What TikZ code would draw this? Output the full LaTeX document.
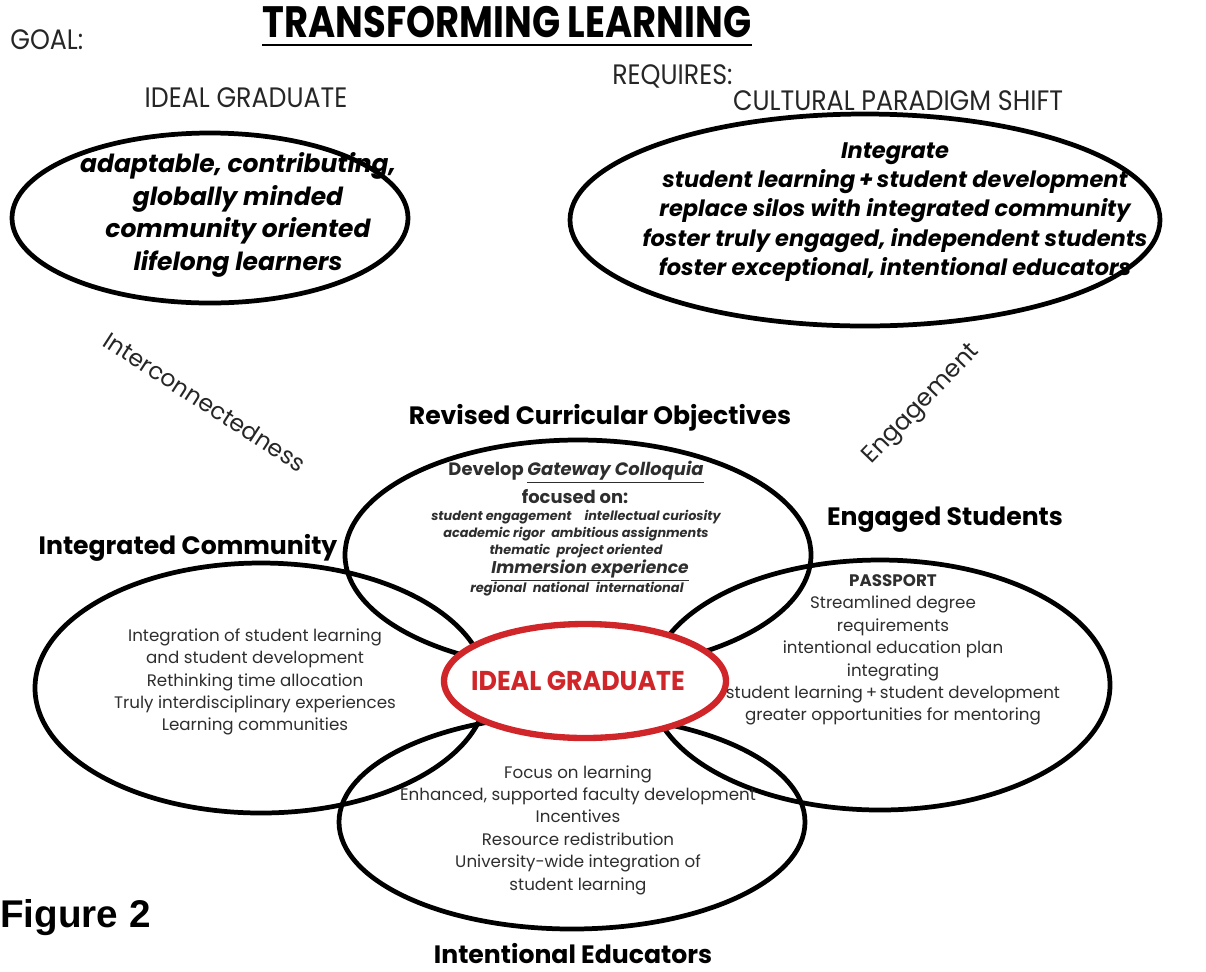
\documentclass[tikz,border=0pt]{standalone}
\usepackage{fontspec}
\setmainfont{Poppins}
\newfontfamily\figfont{Liberation Sans}
\usetikzlibrary{shapes.geometric}
\definecolor{txtgray}{HTML}{2E2E2E}
\definecolor{idealred}{HTML}{D0262A}
\tikzset{
  oval/.style={ellipse, draw=black, line width=2.7pt, inner sep=0pt},
  redoval/.style={ellipse, draw=idealred, line width=3.6pt, fill=white, inner sep=0pt},
  body/.style={align=center, text=txtgray, font=\fontsize{9.5}{12.75}\selectfont, inner sep=0pt},
  head/.style={font=\bfseries\fontsize{14.3}{16}\selectfont, inner sep=0pt},
  lbl/.style={inner sep=0pt, text=black!85},
  bi/.style={align=center, font=\bfseries\itshape, inner sep=0pt}
}
\begin{document}
\begin{tikzpicture}[x=0.02cm,y=-0.02cm]
\useasboundingbox (0,0) rectangle (1206,971);
% title
\node[inner sep=0pt] (title) at (507,22) {\scalebox{0.84}[1]{\bfseries\fontsize{25}{28}\selectfont TRANSFORMING LEARNING}};
\draw[line width=1.4pt] (title.south west |- 0,45) -- (title.south east |- 0,45);
\node[lbl, anchor=west] (goal) at (10,40) {\scalebox{0.9}[1]{\fontsize{16}{18}\selectfont GOAL:}};
\node[lbl] (igtop) at (246,98) {\scalebox{0.9}[1]{\fontsize{16}{18}\selectfont IDEAL GRADUATE}};
\node[lbl, anchor=west] (req) at (612,76) {\scalebox{0.9}[1]{\fontsize{16}{18}\selectfont REQUIRES:}};
\node[lbl] (cps) at (898,101) {\scalebox{0.9}[1]{\fontsize{16}{18}\selectfont CULTURAL PARADIGM SHIFT}};
% top ellipses
\node[oval, minimum width=396*0.02cm, minimum height=170*0.02cm] (goalov) at (210,218) {};
\node[bi, font=\bfseries\itshape\fontsize{14.2}{18.7}\selectfont] (goaltxt) at (238,215)
 {adaptable, contributing,\\globally minded\\community oriented\\lifelong learners};
\node[oval, minimum width=590*0.02cm, minimum height=212*0.02cm] (reqov) at (865,220) {};
\node[bi, font=\bfseries\itshape\fontsize{12.8}{16.7}\selectfont] (reqtxt) at (895,212)
 {Integrate\\student learning\,+\,student development\\replace silos with integrated community\\foster truly engaged, independent students\\foster exceptional, intentional educators};
% rotated labels
\node[lbl, rotate=-33] (inter) at (205,402) {\fontsize{13.4}{15}\selectfont Interconnectedness};
\node[lbl, rotate=46] (engage) at (922,405) {\fontsize{13.8}{15}\selectfont Engagement};
% Venn ellipses
\node[oval, minimum width=466*0.02cm, minimum height=230*0.02cm] (topov) at (578,555) {};
\node[oval, minimum width=452*0.02cm, minimum height=250*0.02cm] (leftov) at (261,688) {};
\node[oval, minimum width=460*0.02cm, minimum height=250*0.02cm] (rightov) at (880,685) {};
\node[oval, minimum width=466*0.02cm, minimum height=214*0.02cm] (botov) at (572,822) {};
\node[redoval, minimum width=282*0.02cm, minimum height=114*0.02cm] (redov) at (585,681) {};
% headings
\node[head] (rco) at (600,418) {Revised Curricular Objectives};
\node[head] (ic) at (188,548) {Integrated Community};
\node[head] (es) at (945,520) {Engaged Students};
\node[head] (ie) at (573,954) {Intentional Educators};
\node[inner sep=0pt, text=idealred] (igred) at (578,681) {\scalebox{0.93}[1]{\bfseries\fontsize{15.5}{17}\selectfont IDEAL GRADUATE}};
% top venn text
\node[inner sep=0pt, text=txtgray, font=\bfseries\fontsize{10.2}{12}\selectfont] (dev) at (576,472) {Develop \underline{\itshape Gateway Colloquia}};
\node[inner sep=0pt, text=txtgray, font=\bfseries\fontsize{10.2}{12}\selectfont] (foc) at (575,497) {focused on:};
\node[bi, text=txtgray, font=\bfseries\itshape\fontsize{7.3}{9.6}\selectfont] (small) at (576,534)
 {student engagement\quad intellectual curiosity\\academic rigor\enspace ambitious assignments\\thematic\enspace project oriented};
\node[inner sep=0pt, text=txtgray, font=\bfseries\itshape\fontsize{9.7}{11}\selectfont] (imm) at (590,571) {\underline{Immersion experience}};
\node[bi, text=txtgray, font=\bfseries\itshape\fontsize{7.4}{8}\selectfont] (reg) at (577,589) {regional\enspace national\enspace international};
% left text
\node[body] (lefttxt) at (255,682) {Integration of student learning\\and student development\\Rethinking time allocation\\Truly interdisciplinary experiences\\Learning communities};
% right text
\node[body] (righttxt) at (893,650) {{\bfseries PASSPORT}\\Streamlined degree\\requirements\\intentional education plan\\integrating\\student learning\,+\,student development\\greater opportunities for mentoring};
% bottom text
\node[body] (bottxt) at (578,830) {Focus on learning\\Enhanced, supported faculty development\\Incentives\\Resource redistribution\\University-wide integration of\\student learning};
% figure label
\node[inner sep=0pt, anchor=west] (fig) at (0,918) {\figfont\bfseries\fontsize{22}{24}\selectfont Figure 2};
\end{tikzpicture}
\end{document}
